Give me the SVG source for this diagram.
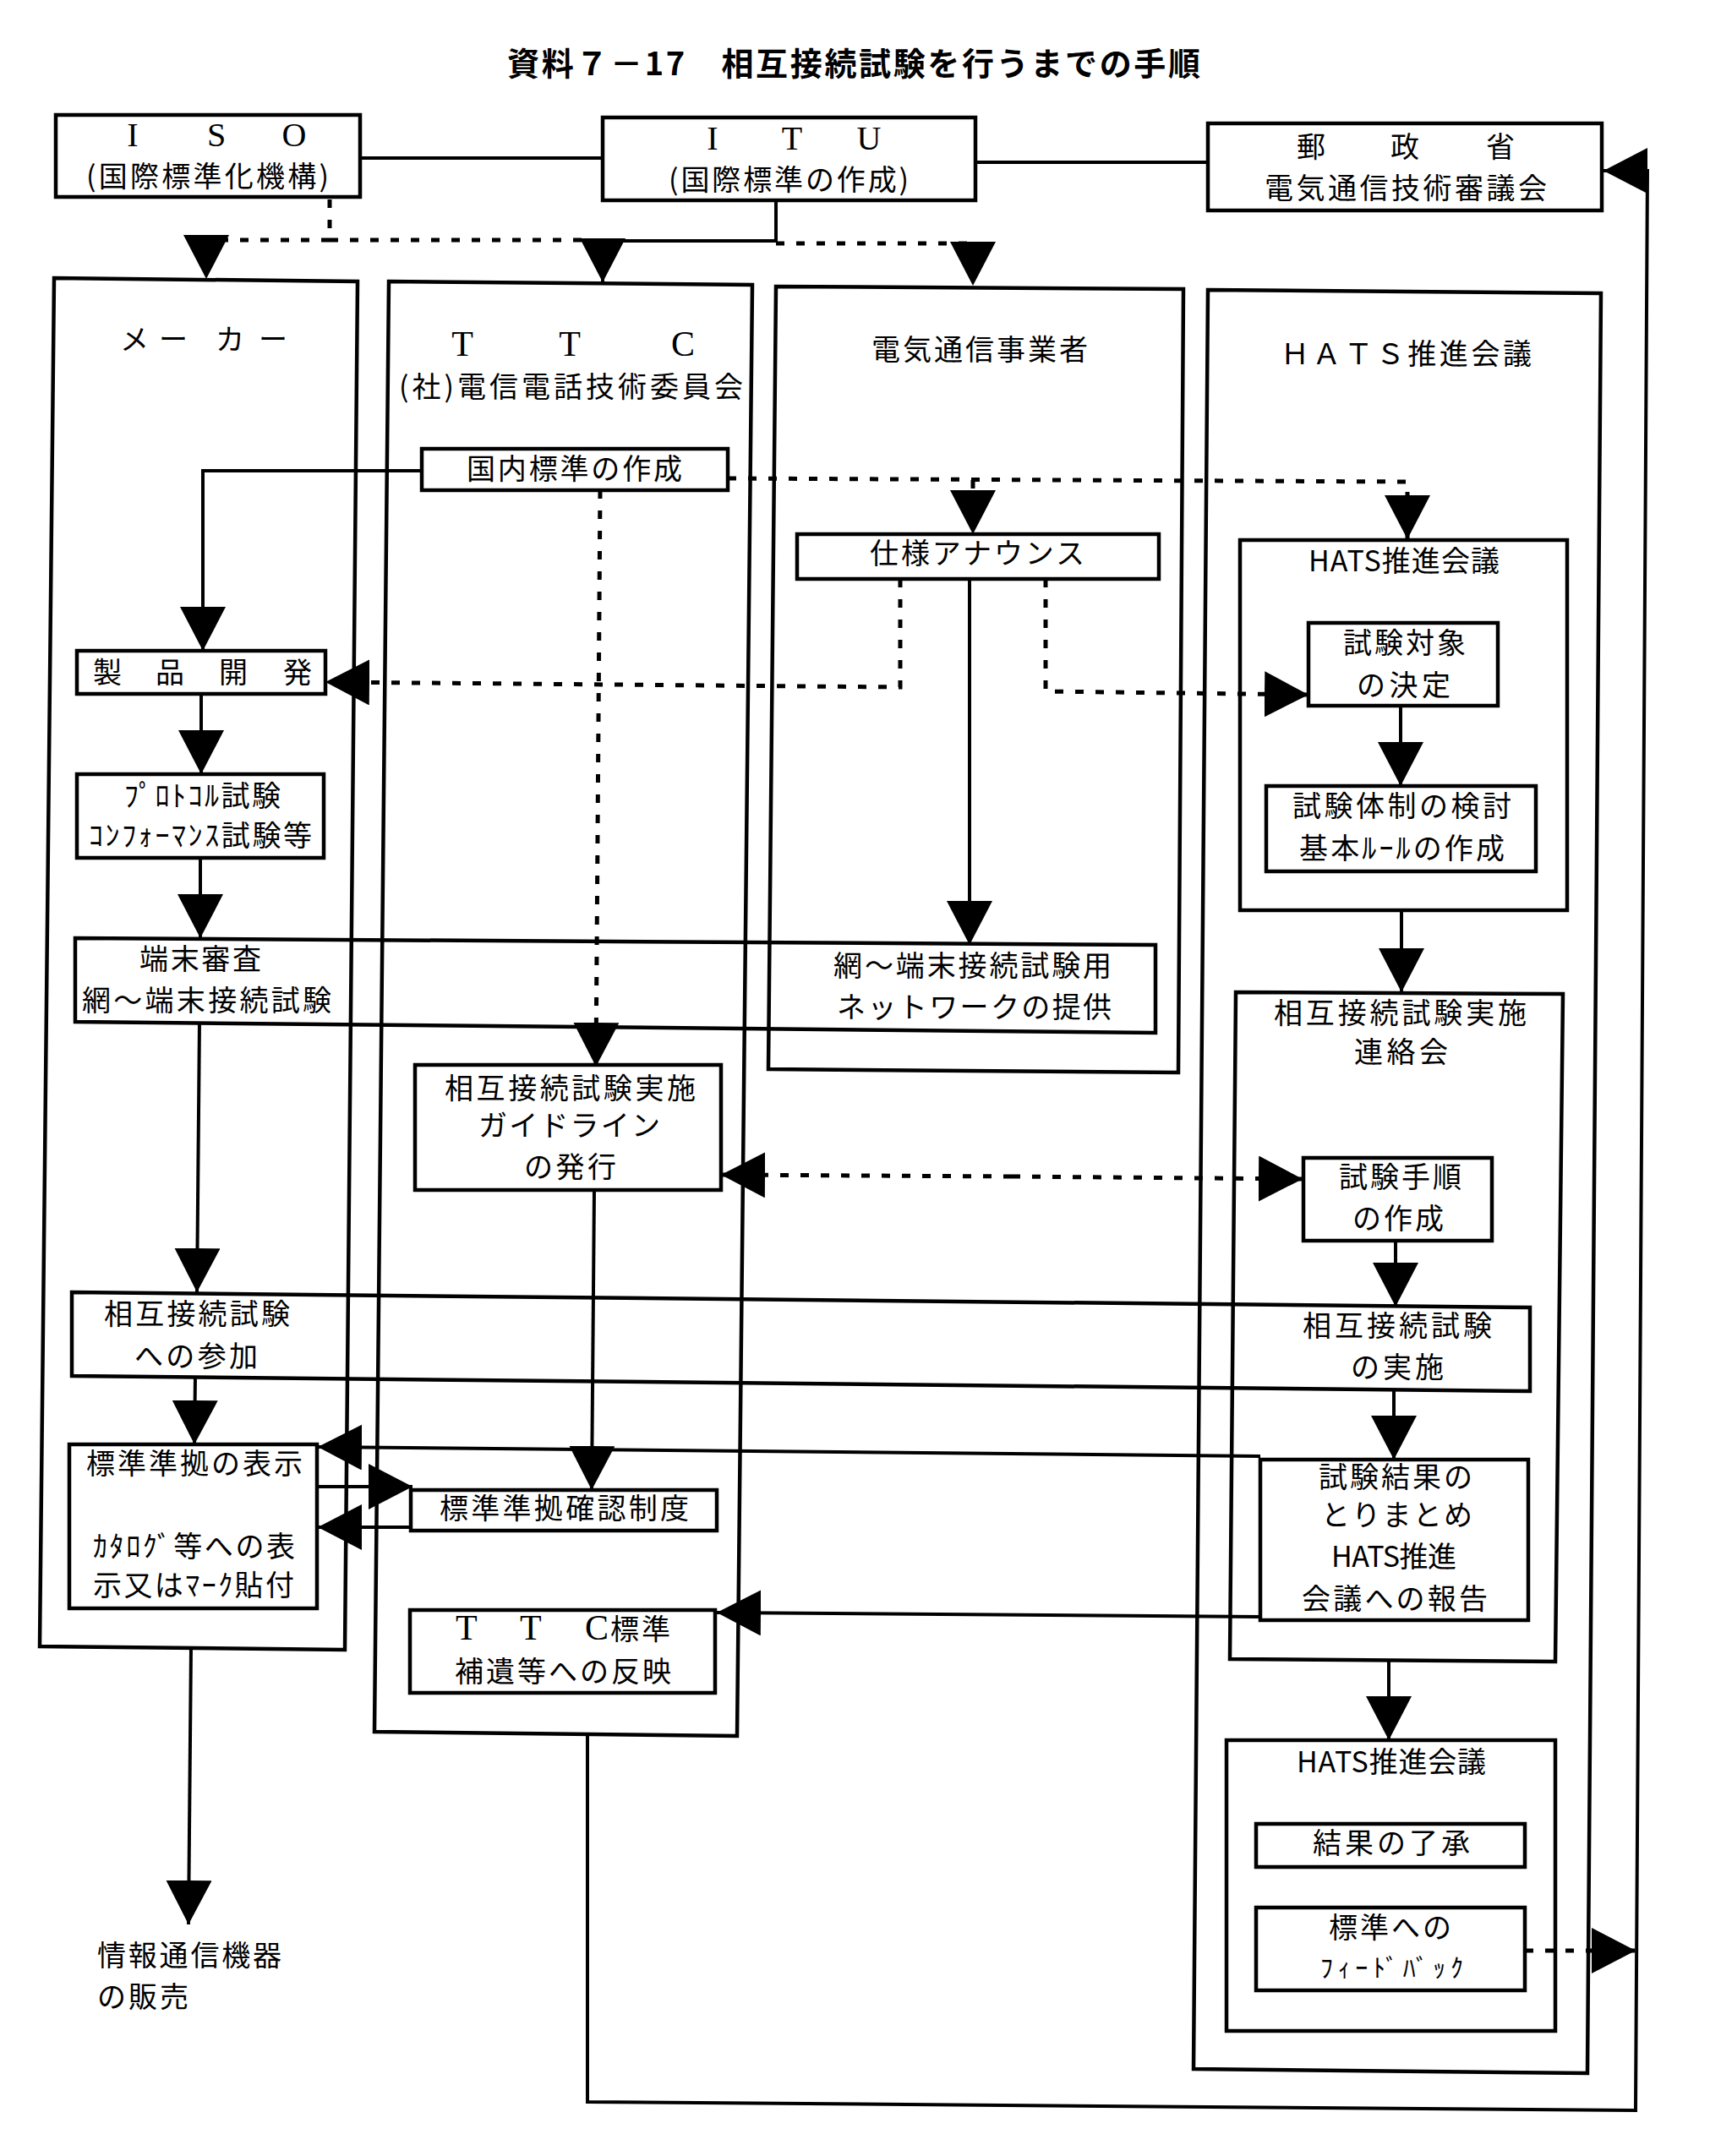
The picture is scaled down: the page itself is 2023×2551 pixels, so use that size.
<svg xmlns="http://www.w3.org/2000/svg" width="2023" height="2551" viewBox="0 0 2023 2551">
<defs>
<style>
.b{fill:none;stroke:#000;stroke-width:4.5}
.c{fill:none;stroke:#000;stroke-width:4}
.d{fill:none;stroke:#000;stroke-width:5;stroke-dasharray:10 14}
.a{marker-end:url(#ah)}
.t{font-family:"Noto Sans CJK JP","Noto Sans CJK SC",sans-serif;font-size:34px;fill:#000}
.s{font-family:"Liberation Serif",serif;font-size:40px;fill:#000}
.s2{font-family:"Liberation Serif",serif;font-size:42px}
.ttl{font-family:"Noto Sans CJK JP","Noto Sans CJK SC",sans-serif;font-size:38px;font-weight:bold;fill:#000}
</style>
<marker id="ah" viewBox="0 0 52 54" refX="52" refY="27" markerWidth="52" markerHeight="54" markerUnits="userSpaceOnUse" orient="auto">
<path d="M0,0 L52,27 L0,54 Z" fill="#000"/>
</marker>
</defs>
<rect x="0" y="0" width="2023" height="2551" fill="#fff"/>
<text class="ttl" x="600" y="89" textLength="820">資料７－17　相互接続試験を行うまでの手順</text>

<g id="iso">
<rect class="b" x="66" y="136" width="360" height="97"/>
<text class="s" text-anchor="middle" x="157 256 348" y="173">ISO</text>
<text class="t" x="102" y="221" textLength="287">(国際標準化機構)</text>
</g>
<g id="itu">
<rect class="b" x="713" y="139" width="441" height="98"/>
<text class="s" text-anchor="middle" x="843 937 1028" y="177">ITU</text>
<text class="t" x="791" y="225" textLength="284">(国際標準の作成)</text>
</g>
<g id="yusei">
<rect class="b" x="1429" y="146" width="466" height="103"/>
<text class="t" text-anchor="middle" x="1551 1662 1775" y="186">郵政省</text>
<text class="t" x="1496" y="235" textLength="334">電気通信技術審議会</text>
</g>

<g id="maker">
<polygon class="b" points="64,329 423,333 408,1952 47,1948"/>
<text class="t" text-anchor="middle" x="159 205 272 323" y="414">メーカー</text>
</g>
<g id="ttc">
<polygon class="b" points="460,333 890,337 872,2054 443,2049"/>
<text class="t" text-anchor="middle" x="547 674 808" y="421"><tspan class="s2">TTC</tspan></text>
<text class="t" x="472" y="470" textLength="407">(社)電信電話技術委員会</text>
</g>
<g id="carrier">
<polygon class="b" points="918,339 1400,342 1394,1269 909,1265"/>
<text class="t" x="1031" y="426" textLength="256">電気通信事業者</text>
</g>
<g id="hats">
<polygon class="b" points="1429,343 1894,347 1878,2453 1412,2448"/>
<text class="t" x="1515" y="431" textLength="297">ＨＡＴＳ推進会議</text>
</g>

<g id="kokunai">
<rect class="b" x="499" y="531" width="362" height="49"/>
<text class="t" x="552" y="567" textLength="255">国内標準の作成</text>
</g>
<g id="shiyou">
<rect class="b" x="943" y="632" width="428" height="53"/>
<text class="t" x="1029" y="667" textLength="254">仕様アナウンス</text>
</g>
<g id="hats1">
<rect class="b" x="1467" y="639" width="387" height="438"/>
<text class="t" x="1548" y="676" textLength="226">HATS推進会議</text>
</g>
<g id="taishou">
<rect class="b" x="1548" y="737" width="224" height="98"/>
<text class="t" x="1589" y="773" textLength="145">試験対象</text>
<text class="t" x="1605" y="823" textLength="111">の決定</text>
</g>
<g id="taisei">
<rect class="b" x="1498" y="930" width="319" height="101"/>
<text class="t" x="1529" y="966" textLength="259">試験体制の検討</text>
<text class="t" x="1537" y="1016" textLength="243">基本ﾙｰﾙの作成</text>
</g>
<g id="seihin">
<rect class="b" x="91" y="770" width="294" height="51"/>
<text class="t" text-anchor="middle" x="127 201 276 352" y="808">製品開発</text>
</g>
<g id="protocol">
<rect class="b" x="91" y="916" width="292" height="99"/>
<text class="t" x="147" y="954" textLength="185">ﾌﾟﾛﾄｺﾙ試験</text>
<text class="t" x="105" y="1001" textLength="264">ｺﾝﾌｫｰﾏﾝｽ試験等</text>
</g>
<g id="tanmatsu">
<polygon class="b" points="89,1110 1367,1118 1367,1222 89,1209"/>
<text class="t" x="165" y="1147" textLength="144">端末審査</text>
<text class="t" x="97" y="1196" textLength="295">網～端末接続試験</text>
<text class="t" x="986" y="1155" textLength="329">網～端末接続試験用</text>
<text class="t" x="990" y="1204" textLength="325">ネットワークの提供</text>
</g>
<g id="guideline">
<rect class="b" x="491" y="1260" width="362" height="148"/>
<text class="t" x="526" y="1300" textLength="297">相互接続試験実施</text>
<text class="t" x="566" y="1344" textLength="215">ガイドライン</text>
<text class="t" x="620" y="1393" textLength="109">の発行</text>
</g>
<g id="renraku">
<polygon class="b" points="1462,1174 1849,1176 1840,1966 1455,1963"/>
<text class="t" x="1507" y="1211" textLength="299">相互接続試験実施</text>
<text class="t" x="1602" y="1257" textLength="111">連絡会</text>
</g>
<g id="tejun">
<rect class="b" x="1542" y="1370" width="223" height="98"/>
<text class="t" x="1584" y="1405" textLength="145">試験手順</text>
<text class="t" x="1600" y="1454" textLength="108">の作成</text>
</g>
<g id="sanka">
<polygon class="b" points="85,1529 1810,1547 1810,1646 85,1628"/>
<text class="t" x="123" y="1567" textLength="220">相互接続試験</text>
<text class="t" x="159" y="1617" textLength="146">への参加</text>
<text class="t" x="1541" y="1581" textLength="224">相互接続試験</text>
<text class="t" x="1598" y="1630" textLength="110">の実施</text>
</g>
<g id="hyouji">
<rect class="b" x="82" y="1709" width="293" height="194"/>
<text class="t" x="102" y="1744" textLength="256">標準準拠の表示</text>
<text class="t" x="110" y="1842" textLength="239">ｶﾀﾛｸﾞ等への表</text>
<text class="t" x="110" y="1888" textLength="238">示又はﾏｰｸ貼付</text>
</g>
<g id="kakunin">
<rect class="b" x="486" y="1763" width="362" height="48"/>
<text class="t" x="520" y="1797" textLength="295">標準準拠確認制度</text>
</g>
<g id="kekka">
<rect class="b" x="1491" y="1727" width="317" height="190"/>
<text class="t" x="1560" y="1760" textLength="182">試験結果の</text>
<text class="t" x="1563" y="1805" textLength="179">とりまとめ</text>
<text class="t" x="1575" y="1854" textLength="148">HATS推進</text>
<text class="t" x="1540" y="1904" textLength="220">会議への報告</text>
</g>
<g id="ttcstd">
<rect class="b" x="485" y="1905" width="361" height="98"/>
<text class="t" x="539 615 692 722 759" y="1940"><tspan class="s2">TTC</tspan>標準</text>
<text class="t" x="538" y="1990" textLength="256">補遺等への反映</text>
</g>
<g id="hats3">
<rect class="b" x="1451" y="2059" width="389" height="344"/>
<text class="t" x="1534" y="2097" textLength="224">HATS推進会議</text>
</g>
<g id="ryoushou">
<rect class="b" x="1486" y="2158" width="318" height="51"/>
<text class="t" x="1553" y="2193" textLength="186">結果の了承</text>
</g>
<g id="feedback">
<rect class="b" x="1486" y="2257" width="318" height="98"/>
<text class="t" x="1572" y="2293" textLength="145">標準への</text>
<text class="t" x="1562" y="2339" textLength="169" style="font-size:30px">ﾌｨｰﾄﾞﾊﾞｯｸ</text>
</g>
<g id="hanbai">
<text class="t" x="115" y="2326" textLength="218">情報通信機器</text>
<text class="t" x="115" y="2375" textLength="108">の販売</text>
</g>

<g id="connectors">
<path class="c" d="M426,187 H713"/>
<path class="c" d="M1154,192 H1429"/>
<path class="d a" d="M390,236 V284 H244 V330"/>
<path class="d" d="M390,284 H689"/>
<path class="c a" d="M918,237 V285 H713 V334"/>
<path class="d a" d="M918,288 H1151 V338"/>
<path class="c a" d="M499,557 H240 V770"/>
<path class="d a" d="M861,566 L1665,570 V638"/>
<path class="d a" d="M1151,568 V632"/>
<path class="d a" d="M710,580 L705,1262"/>
<path class="d a" d="M1065,685 V813 L385,807"/>
<path class="d a" d="M1237,685 V818 L1548,822"/>
<path class="c a" d="M1147,685 V1118"/>
<path class="c a" d="M238,821 V916"/>
<path class="c a" d="M237,1015 V1110"/>
<path class="c a" d="M236,1209 L233,1529"/>
<path class="c a" d="M231,1628 L230,1709"/>
<path class="c a" d="M226,1949 L223,2277"/>
<path class="c a" d="M1657,835 V930"/>
<path class="c a" d="M1658,1077 V1174"/>
<path class="d a" d="M1197,1392 L853,1390"/>
<path class="d a" d="M1197,1392 L1541,1395"/>
<path class="c a" d="M1651,1468 V1546"/>
<path class="c a" d="M1649,1646 V1727"/>
<path class="c a" d="M703,1408 L700,1763"/>
<path class="c a" d="M1491,1723 L376,1712"/>
<path class="c a" d="M375,1759 H488"/>
<path class="c a" d="M486,1807 H376"/>
<path class="c a" d="M1491,1913 L848,1908"/>
<path class="c a" d="M1643,1966 V2059"/>
<path class="d a" d="M1804,2308 H1935"/>
<path class="c a" d="M695,2052 V2487 L1935,2497 L1949,202 H1897"/>
</g>
</svg>
